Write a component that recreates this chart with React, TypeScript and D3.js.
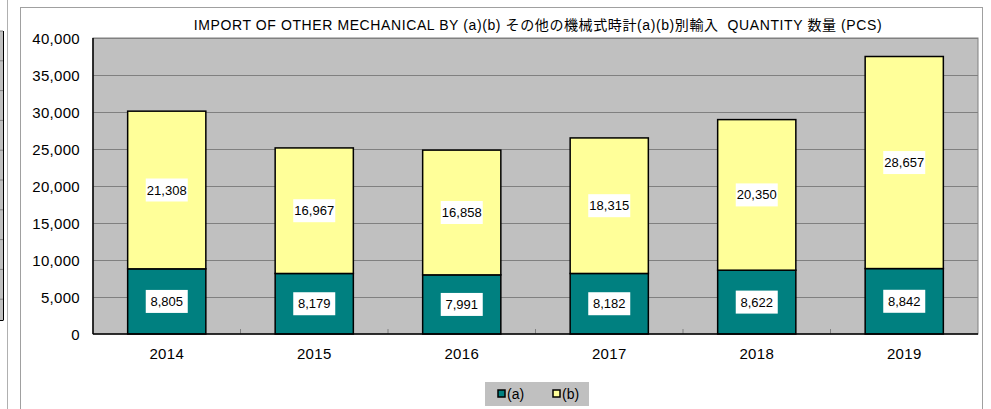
import React from "react";
import * as d3 from "d3";

const years = ["2014", "2015", "2016", "2017", "2018", "2019"];
const seriesA = [8805, 8179, 7991, 8182, 8622, 8842];
const seriesB = [21308, 16967, 16858, 18315, 20350, 28657];
const seriesNames = ["(a)", "(b)"];
const yTicks = [0, 5000, 10000, 15000, 20000, 25000, 30000, 35000, 40000];
const title = "IMPORT OF OTHER MECHANICAL BY (a)(b) その他の機械式時計(a)(b)別輸入  QUANTITY 数量 (PCS)";

const W = 991, H = 409;
const plot = { left: 93, top: 38, right: 978, bottom: 334 };
const colors = ["#008080", "#FFFF99"];
const font = "Arial, 'Liberation Sans', 'Noto Sans CJK JP', sans-serif";
const fmt = d3.format(",");

export default function App() {
  const x = d3.scaleBand().domain(years).range([plot.left, plot.right]).paddingInner(0.47).paddingOuter(0.235);
  const y = d3.scaleLinear().domain([0, 40000]).range([plot.bottom, plot.top]);
  const stack = d3.stack<any>().keys(["a", "b"])(years.map((yr, i) => ({ yr, a: seriesA[i], b: seriesB[i] })));
  const step = (plot.right - plot.left) / years.length;
  const leftLines = d3.range(31, 320, 29.8);

  return (
    <svg width={W} height={H} style={{ position: "absolute", left: 0, top: 0, background: "#fff" }} fontFamily={font}>
      {/* neighbor chart fragment */}
      <rect x={0} y={31} width={3} height={289} fill="#c0c0c0" />
      {leftLines.map((yy, i) => <line key={i} x1={0} x2={3} y1={yy} y2={yy} stroke="#808080" />)}
      <line x1={3.5} x2={3.5} y1={31} y2={320} stroke="#000" />
      <line x1={0} x2={3.5} y1={320.5} y2={320.5} stroke="#000" />
      <line x1={7.5} x2={7.5} y1={0} y2={H} stroke="#b0b0b0" />
      {/* chart frame */}
      <rect x={20.5} y={7.5} width={962} height={H} fill="#fff" stroke="#a0a0a0" />
      <text x={538} y={30} textAnchor="middle" fontSize={14} letterSpacing={0.6} fill="#000" style={{ whiteSpace: "pre" }}>{title}</text>
      {/* plot area */}
      <rect x={plot.left} y={plot.top} width={plot.right - plot.left} height={plot.bottom - plot.top} fill="#c0c0c0" stroke="#808080" />
      {yTicks.filter(t => t > 0).map(t => (
        <line key={t} x1={plot.left} x2={plot.right} y1={Math.round(y(t)) + 0.5} y2={Math.round(y(t)) + 0.5} stroke="#808080" />
      ))}
      {yTicks.map(t => (
        <text key={t} x={80} y={y(t) + 5.5} textAnchor="end" fontSize={15} letterSpacing={0.3} fill="#000">{fmt(t)}</text>
      ))}
      {d3.range(1, years.length).map(i => (
        <line key={i} x1={plot.left + step * i} x2={plot.left + step * i} y1={plot.bottom - 5} y2={plot.bottom} stroke="#808080" />
      ))}
      {stack.map((s, si) => s.map((d, i) => (
        <rect key={`${si}-${i}`} x={x(years[i])} y={y(d[1])} width={x.bandwidth()} height={y(d[0]) - y(d[1])}
          fill={colors[si]} stroke="#000" strokeWidth={1.5} />
      )))}
      <line x1={plot.left} x2={plot.left} y1={plot.top} y2={plot.bottom} stroke="#000" strokeWidth={1.5} />
      <line x1={plot.left} x2={plot.right} y1={plot.bottom} y2={plot.bottom} stroke="#000" strokeWidth={1.5} />
      {stack.map((s, si) => s.map((d, i) => {
        const cx = (x(years[i]) as number) + x.bandwidth() / 2;
        const cy = (y(d[0]) + y(d[1])) / 2;
        const v = si === 0 ? seriesA[i] : seriesB[i];
        return (
          <g key={`l${si}-${i}`}>
            <rect x={cx - 21} y={cy - 11.5} width={42} height={23} fill="#fff" />
            <text x={cx} y={cy + 4.5} textAnchor="middle" fontSize={13} fill="#000">{fmt(v)}</text>
          </g>
        );
      }))}
      {years.map(yr => (
        <text key={yr} x={(x(yr) as number) + x.bandwidth() / 2} y={358.5} textAnchor="middle" fontSize={15} letterSpacing={0.3} fill="#000">{yr}</text>
      ))}
      {/* legend */}
      <rect x={485} y={382} width={104} height={24} fill="#c0c0c0" />
      {seriesNames.map((n, i) => (
        <g key={n}>
          <rect x={498 + i * 55} y={390} width={7} height={7} fill={colors[i]} stroke="#000" strokeWidth={1.5} />
          <text x={507 + i * 55} y={399} fontSize={14} fill="#000">{n}</text>
        </g>
      ))}
    </svg>
  );
}
